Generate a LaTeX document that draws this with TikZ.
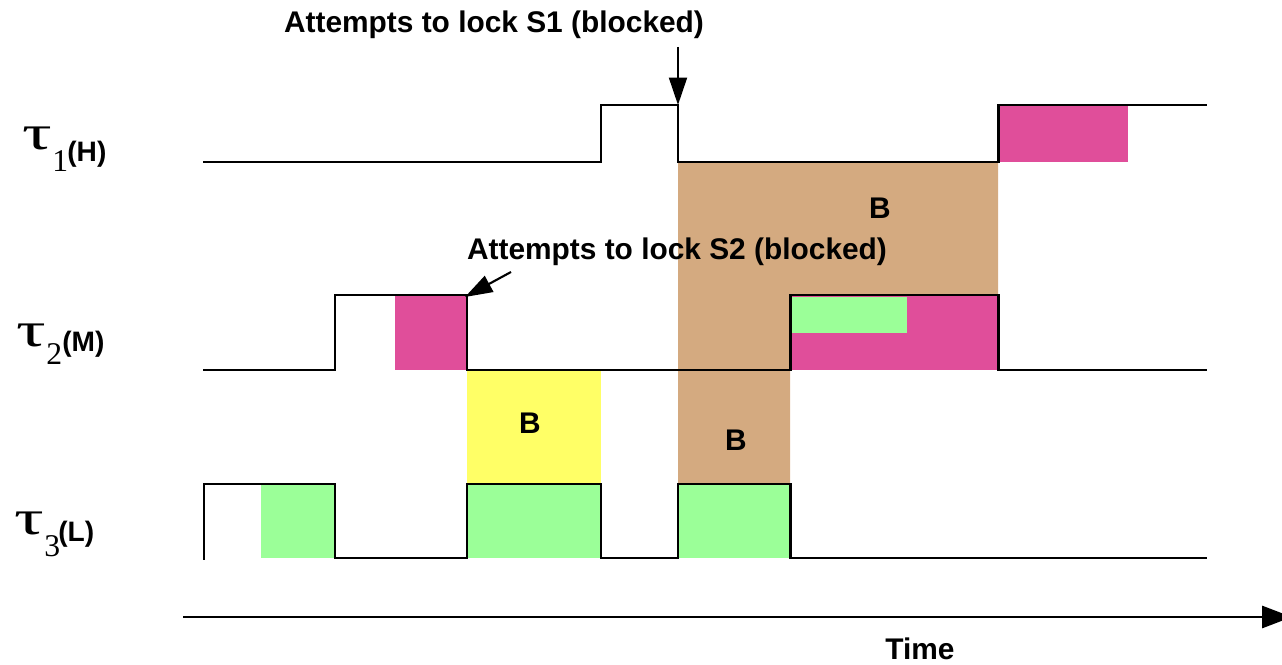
\documentclass[tikz,border=0pt]{standalone}
\usepackage{fontspec}
\setmainfont{Liberation Sans}
\newfontfamily\grk{Liberation Serif}
\usetikzlibrary{arrows.meta}

\definecolor{runpink}{RGB}{224,78,154}
\definecolor{rungreen}{RGB}{155,255,152}
\definecolor{blkyellow}{RGB}{255,255,102}
\definecolor{blktan}{RGB}{212,170,128}

\begin{document}
\begin{tikzpicture}[x=0.02cm,y=-0.02cm]
\tikzstyle{sig}=[line width=1.7pt,line join=miter]
\tikzstyle{lbl}=[inner sep=0pt,font=\fontsize{17}{20}\selectfont\bfseries]
\tikzstyle{tau}=[inner sep=0pt,anchor=base west,font=\grk\fontsize{28}{30}\selectfont]
\tikzstyle{idx}=[inner sep=0pt,anchor=base west,font=\grk\fontsize{18}{20}\selectfont]
\tikzstyle{prio}=[inner sep=0pt,anchor=base west,font=\fontsize{16}{18}\selectfont\bfseries]
\tikzstyle{note}=[line width=1.2pt,-{Triangle[length=0.55cm,width=0.36cm]}]
\useasboundingbox (0,0) rectangle (1282,665);

% blocking intervals
\fill[blktan] (678,162) -- (998,162) -- (998,295) -- (790,295) -- (790,484) -- (678,484) -- cycle;
\fill[blkyellow] (467,370) rectangle (601,484);

% execution
\fill[runpink] (1000,105) rectangle (1128,162);
\fill[runpink] (395,295) rectangle (467,370);
\fill[runpink] (790,295) rectangle (998,370);
\fill[rungreen] (790,297) rectangle (907,333);
\fill[rungreen] (261,484) rectangle (335,558);
\fill[rungreen] (467,484) rectangle (601,558);
\fill[rungreen] (678,484) rectangle (790,558);

% task lines
\draw[sig] (203,162) -- (601,162) -- (601,105) -- (678,105) -- (678,162)
  -- (998,162) -- (998,105) -- (1207,105);
\draw[sig] (203,370) -- (335,370) -- (335,295) -- (467,295) -- (467,370)
  -- (790,370) -- (790,295) -- (998,295) -- (998,370) -- (1207,370);
\draw[sig] (204,560) -- (204,484) -- (335,484) -- (335,558) -- (467,558)
  -- (467,484) -- (601,484) -- (601,558) -- (678,558) -- (678,484)
  -- (790,484) -- (790,558) -- (1207,558);

% task names
\node[tau] (tau1) at (22,150) {\scalebox{1.5}[1]{τ}};
\node[idx] (n1) at (52,172) {1};
\node[prio] (p1) at (67,162) {(H)};
\node[tau] (tau2) at (16,347) {\scalebox{1.5}[1]{τ}};
\node[idx] (n2) at (46,365) {2};
\node[prio] (p2) at (62,352) {(M)};
\node[tau] (tau3) at (14,535) {\scalebox{1.5}[1]{τ}};
\node[idx] (n3) at (44,557) {3};
\node[prio] (p3) at (58,541) {(L)};

\node[lbl] (b1) at (880,208) {B};
\node[lbl] (b2) at (530,423) {B};
\node[lbl] (b3) at (736,440) {B};

% lock attempts
\node[lbl] (s1) at (494,25) {Attempts to lock S1 (blocked)};
\coordinate (s1from) at (678,47);
\coordinate (s1to) at (678,105);
\draw[note] (s1from) -- (s1to);
\node[lbl] (s2) at (677,252) {Attempts to lock S2 (blocked)};
\coordinate (s2from) at (511,272);
\coordinate (s2to) at (465,297);
\draw[note] (s2from) -- (s2to);

% time axis
\coordinate (t0) at (183,617);
\coordinate (t1) at (1292,617);
\draw[line width=1.7pt,-{Triangle[length=0.6cm,width=0.44cm]}] (t0) -- (t1);
\node[lbl] (time) at (920,649) {Time};
\end{tikzpicture}
\end{document}
